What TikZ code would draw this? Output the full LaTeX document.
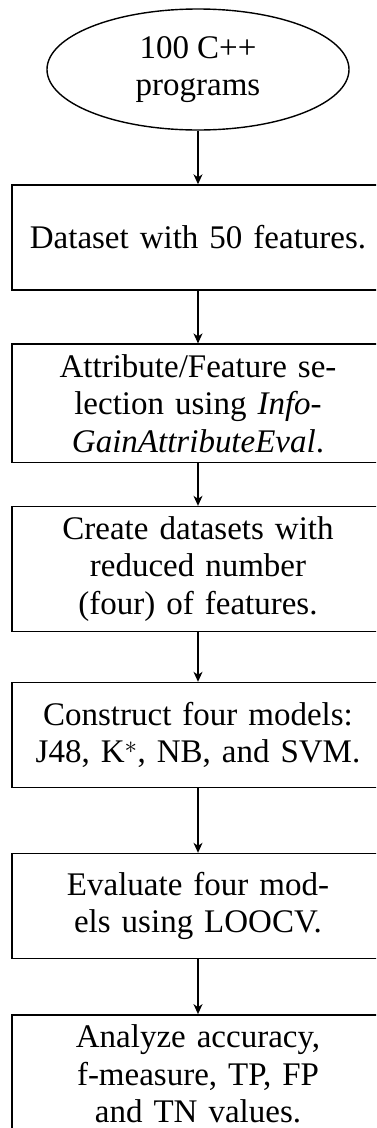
\documentclass[tikz,border=0pt]{standalone}
\usepackage{fontspec}
\setmainfont{Liberation Serif}
\usetikzlibrary{shapes.geometric,arrows.meta}
\begin{document}
\begin{tikzpicture}[x=1pt,y=1pt,
  every node/.style={font=\fontsize{33}{37.5}\selectfont},
  stepbox/.style={draw, line width=1.4pt, rectangle, minimum width=372pt,
    minimum height=105pt, text width=340pt, align=center,
    inner xsep=16pt, inner ysep=10pt},
  startnode/.style={draw, line width=1.4pt, ellipse, minimum width=302pt,
    minimum height=121pt, align=center, inner sep=0pt},
  flow/.style={-{Stealth[length=10pt,width=9pt,inset=3pt]}, line width=1.4pt}]
  \useasboundingbox (0,0) rectangle (376,-1128);
  \clip (0,0) rectangle (376,-1128);

  \node[startnode] (src) at (198,-69.5) {100 C++\\programs};
  \node[stepbox] (data) at (198,-237.5) {Dataset with 50 features.};
  \node[stepbox] (sel) at (198,-403.3) {Attribute/Feature se-\\lection using \textit{Info-}\\\textit{GainAttributeEval}.};
  \node[stepbox] (reduce) at (198,-569) {Create datasets with\\reduced number\\(four) of features.};
  \node[stepbox] (models) at (198,-735) {Construct four models:\\J48, K$^*$, NB, and SVM.};
  \node[stepbox] (eval) at (198,-906) {Evaluate four mod-\\els using LOOCV.};
  \node[stepbox] (analyze) at (198,-1074) {Analyze accuracy,\\f-measure, TP, FP\\and TN values.};

  \draw[flow] (src) -- (data);
  \draw[flow] (data) -- (sel);
  \draw[flow] (sel) -- (reduce);
  \draw[flow] (reduce) -- (models);
  \draw[flow] (models) -- (eval);
  \draw[flow] (eval) -- (analyze);
\end{tikzpicture}
\end{document}
